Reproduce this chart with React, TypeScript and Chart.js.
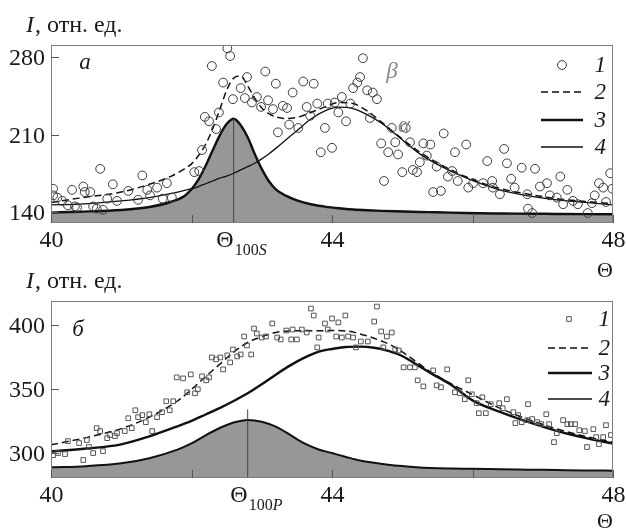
import React, { useEffect, useRef } from 'react';
import { Chart, registerables } from 'chart.js';
Chart.register(...registerables);

// ---------- panel a (top) ----------
const thetaTop = [40, 40.4, 41, 41.4, 41.7, 41.9, 42, 42.1, 42.2, 42.3, 42.4, 42.5, 42.6, 42.7, 42.8, 42.9, 43, 43.1, 43.2, 43.35, 43.5, 43.7, 43.9, 44.1, 44.3, 44.5, 44.7, 44.9, 45.25, 45.5, 45.9, 46.4, 46.8, 47.2, 47.6, 48];
const peakS = [139.4, 140.2, 141.8, 144.5, 149, 154.5, 160.5, 169.5, 181.5, 195.5, 209, 219.5, 224.3, 218.5, 207.5, 192.5, 179, 168, 160.5, 154.5, 150.5, 147, 144.8, 143.3, 142.2, 141.5, 141, 140.6, 140, 139.7, 139, 138.6, 138.4, 138.2, 138, 137.9];
const broadS = [146.4, 147, 150, 153, 156.5, 159.5, 161, 163, 165.5, 168, 170.5, 172.5, 175, 178, 181, 184, 188, 192.5, 197.5, 205.5, 213.5, 224, 231.5, 234.8, 233.5, 228, 220.5, 210.5, 192.5, 183, 171, 159.7, 154.5, 151, 148.7, 146.4];
const sumS = [148.5, 152.5, 158, 165, 172, 179, 183.5, 191, 201, 215, 232, 250, 261, 263, 254, 243, 234, 229, 226, 224.5, 225.5, 230, 235, 239, 238, 231.5, 221.5, 211, 194, 184.5, 172, 161, 156, 152, 149.5, 147.5];
const obsTopTheta = [40.03, 40.03, 40.09, 40.16, 40.24, 40.30, 40.34, 40.37, 40.46, 40.48, 40.56, 40.60, 40.65, 40.70, 40.74, 40.80, 40.88, 40.94, 41.10, 41.24, 41.30, 41.37, 41.41, 41.51, 41.59, 41.65, 41.72, 42.04, 42.11,
  42.15, 42.19, 42.25, 42.35, 42.39, 42.29, 42.51, 42.55, 42.45, 42.59, 42.70, 42.79, 42.76, 42.86, 42.93, 42.99, 43.05, 43.09, 43.16, 43.20, 43.30, 43.36, 43.39, 43.23, 43.44, 43.52, 43.59, 43.64, 43.69, 43.74, 43.79, 43.84, 43.90, 43.94,
  44.00, 44.04, 44.09, 44.14, 44.20, 44.26, 44.30, 44.36, 44.40, 44.44, 44.50, 44.58, 44.64, 44.54, 44.70, 44.74, 44.80, 44.85, 44.90, 44.94, 45.00, 45.05, 45.11, 45.15, 45.21, 45.25, 45.30, 45.35, 45.40, 45.44, 45.49, 45.55, 45.59, 45.65, 45.71, 45.75, 45.79, 45.91, 45.94,
  46.01, 46.15, 46.21, 46.28, 46.29, 46.39, 46.45, 46.49, 46.55, 46.60, 46.70, 46.78, 46.79, 46.85, 46.89, 46.96, 47.06, 47.10, 47.20, 47.25, 47.29, 47.35, 47.43, 47.50, 47.64, 47.70, 47.74, 47.80, 47.86, 47.90, 47.96, 47.99];
const obsTopI = [161, 155, 153, 150, 146, 160, 145, 144, 163, 158, 158, 145, 143, 179, 142, 152, 165, 150, 159, 151, 173, 160, 155, 162, 152, 166, 153, 176, 177,
  196, 226, 222, 215, 230, 272, 288, 281, 257, 242, 252, 262, 243, 239, 244, 235, 267, 241, 233, 256, 236, 234, 219, 212, 248, 216, 258, 235, 227, 256, 238, 194, 216, 238,
  198, 239, 230, 244, 222, 238, 252, 257, 262, 279, 250, 248, 242, 225, 202, 168, 194, 216, 203, 192, 176, 216, 203, 178, 176, 185, 202, 191, 201, 158, 181, 159, 211, 172, 177, 194, 168, 201, 162,
  166, 166, 186, 168, 162, 156, 197, 184, 170, 162, 180, 156, 143, 139, 179, 163, 166, 155, 153, 172, 147, 160, 150, 147, 139, 148, 155, 166, 162, 149, 175, 161];
const yTicksTop = [140, 210, 280];

// ---------- panel б (bottom) ----------
const thetaBottom = [40, 40.5, 41, 41.4, 41.8, 42, 42.2, 42.4, 42.6, 42.8, 43, 43.2, 43.4, 43.6, 43.8, 44, 44.2, 44.4, 44.6, 44.8, 45, 45.2, 45.4, 45.7, 46, 46.4, 46.8, 47.2, 47.6, 48];
const peakP = [288.9, 289.8, 292, 296, 302.7, 307.5, 313.8, 319.5, 323.8, 325.8, 324.4, 320.5, 314.3, 307.7, 303, 300, 297, 294.2, 292.4, 291, 289.9, 289, 288.4, 288, 287.8, 287.4, 287.1, 286.8, 286.5, 286.3];
const broadP = [301.3, 303.5, 306.8, 313, 320.8, 325, 330, 335, 340.5, 346.5, 353.5, 361, 368, 374, 378.8, 381, 382.5, 382.8, 381.9, 379.5, 375.5, 369, 362.4, 352.9, 341, 331.8, 324, 317.2, 311.8, 307.4];
const sumP = [306.4, 312, 319, 328, 340.5, 349.5, 359.5, 369, 378.5, 386, 390.5, 393.8, 395, 395.2, 395.2, 395.3, 395, 392.7, 389.3, 385, 378.8, 371, 363.3, 353.8, 345.5, 334.6, 326, 318.8, 313, 308.5];
const obsBotTheta = [40.03, 40.10, 40.20, 40.24, 40.40, 40.46, 40.51, 40.54, 40.60, 40.65, 40.70, 40.74, 40.80, 40.84, 40.91, 40.94, 41.05, 41.10, 41.15, 41.20, 41.24, 41.30, 41.35, 41.40, 41.44, 41.51, 41.58, 41.64, 41.69, 41.74, 41.79, 41.88, 41.99, 41.94,
  42.05, 42.09, 42.15, 42.21, 42.25, 42.29, 42.35, 42.41, 42.45, 42.51, 42.55, 42.59, 42.65, 42.70, 42.75, 42.79, 42.85, 42.89, 42.93, 43.00, 43.06, 43.15, 43.22, 43.27, 43.35, 43.42, 43.44, 43.50, 43.57, 43.64, 43.70, 43.74, 43.79, 43.81,
  43.90, 43.94, 44.00, 44.09, 44.19, 44.06, 44.14, 44.23, 44.30, 44.34, 44.41, 44.51, 44.64, 44.60, 44.70, 44.78, 44.85, 44.73, 44.90, 44.95, 45.02, 45.11, 45.18, 45.22, 45.30, 45.44, 45.49, 45.55, 45.64, 45.94, 45.75, 45.82, 45.89, 45.99,
  46.06, 46.14, 46.09, 46.19, 46.26, 46.38, 46.49, 46.43, 46.58, 46.65, 46.61, 46.70, 46.79, 46.78, 46.85, 46.92, 46.98, 47.05, 47.09, 47.16, 47.20, 47.29, 47.35, 47.40, 47.46, 47.52, 47.60, 47.63, 47.72, 47.76, 47.80, 47.86, 47.90, 47.97];
const obsBotI = [298.4, 300, 299.2, 309.3, 307.8, 294.6, 310.1, 304.7, 300, 319.4, 317.1, 301.5, 311.6, 314, 313.2, 315.5, 317.1, 327.1, 319.4, 333.3, 327.9, 329.5, 324, 330.2, 317.1, 327.9, 331.8, 340.3, 333.3, 340.3, 358.9, 358.1, 361.2, 347.3,
  346.5, 349.6, 359.7, 356.6, 358.9, 374.4, 372.9, 374.4, 365.1, 376, 370.5, 380.6, 375.2, 376.7, 390.7, 383.7, 376.7, 396.9, 393, 389.9, 390.7, 400.8, 389.9, 388.4, 395.3, 388.4, 396.1, 388.4, 396.1, 393.8, 412.4, 407, 382.2, 389.9,
  400.8, 396.1, 404.7, 401.6, 407, 390.7, 389.9, 390.7, 389.9, 382.2, 386.8, 386.8, 414, 402.3, 394.6, 390.7, 393.8, 382.2, 380.6, 379.8, 366.7, 366.7, 366.7, 356.6, 351.9, 364.3, 352.7, 351.2, 365.1, 356.6, 347.3, 346.5, 341.9, 345.7,
  338.8, 343.4, 331, 331, 338, 338.8, 341.9, 334.9, 331.8, 329.5, 323.3, 324, 338, 325.6, 326.4, 324, 322.5, 330.2, 322.5, 308.5, 315.5, 325.6, 322.5, 322.5, 322.5, 317.8, 317.1, 304.7, 318.6, 312.4, 307, 312.4, 321.7, 314];
const yTicksBottom = [300, 350, 400];

// ---------- shared ----------
const xTicks = [40, 42, 44, 46, 48];
const xTickLabels = ['40', '', '44', '', '48'];
const legendLabels = ['1', '2', '3', '4'];
const axisLabelItalic = 'I';
const axisLabelRest = ', отн. ед.';
const thetaLabel = 'Θ';

const SERIF = '"Liberation Serif", "DejaVu Serif", serif';

type Panel = {
  theta: number[]; peak: number[]; broad: number[]; sum: number[];
  obsX: number[]; obsY: number[];
  yMin: number; yMax: number; yTicks: number[];
  markerTheta: number; markerTop: number; subLetter: string;
  padding: { left: number; right: number; top: number; bottom: number };
  markerStyle: 'circle' | 'rect'; markerR: number; markerColor: string;
  peakW: number; broadW: number;
  axisLabelY: number; thetaLabelY: number;
  letter: string; letterX: number; letterY: number;
  legendY: number[]; legendMarkerX: number; legendX0: number; legendX1: number; legendTextX: number;
  greek: { t: string; x: number; y: number }[];
};

const TOP: Panel = {
  theta: thetaTop, peak: peakS, broad: broadS, sum: sumS, obsX: obsTopTheta, obsY: obsTopI,
  yMin: 130, yMax: 291, yTicks: yTicksTop,
  markerTheta: 42.6, markerTop: 224.3, subLetter: 'S',
  padding: { left: 51, right: 13, top: 45, bottom: 67 },
  markerStyle: 'circle', markerR: 4.4, markerColor: '#3a3a3a',
  peakW: 2.4, broadW: 1.3,
  axisLabelY: 32, thetaLabelY: 277,
  letter: 'a', letterX: 85, letterY: 63,
  legendY: [65, 92, 120, 147], legendMarkerX: 562, legendX0: 541, legendX1: 583, legendTextX: 606,
  greek: [{ t: 'β', x: 392, y: 72 }, { t: 'α', x: 404, y: 126 }],
};

const BOTTOM: Panel = {
  theta: thetaBottom, peak: peakP, broad: broadP, sum: sumP, obsX: obsBotTheta, obsY: obsBotI,
  yMin: 280.6, yMax: 418.3, yTicks: yTicksBottom,
  markerTheta: 42.8, markerTop: 334, subLetter: 'P',
  padding: { left: 51, right: 13, top: 41, bottom: 52 },
  markerStyle: 'rect', markerR: 3.3, markerColor: '#555',
  peakW: 2, broadW: 2.4,
  axisLabelY: 28, thetaLabelY: 268,
  letter: 'б', letterX: 78, letterY: 70,
  legendY: [59, 88, 113, 139], legendMarkerX: 569, legendX0: 548, legendX1: 592, legendTextX: 610,
  greek: [],
};

function decor(p: Panel) {
  return {
    id: 'decor',
    afterDatasetsDraw(chart: any) {
      const { ctx, chartArea: a, scales } = chart;
      const xs = scales.x, ys = scales.y;
      ctx.save();
      // frame
      ctx.strokeStyle = '#7d7d7d';
      ctx.lineWidth = 1;
      ctx.setLineDash([]);
      ctx.strokeRect(a.left + 0.5, a.top + 0.5, a.right - a.left - 1, a.bottom - a.top - 1);
      ctx.fillStyle = '#1a1a1a';
      ctx.strokeStyle = '#555';
      // y ticks
      ctx.font = `24px ${SERIF}`;
      ctx.textAlign = 'right';
      ctx.textBaseline = 'middle';
      p.yTicks.forEach((v) => {
        const py = Math.round(ys.getPixelForValue(v)) + 0.5;
        ctx.beginPath(); ctx.moveTo(a.left, py); ctx.lineTo(a.left + 8, py); ctx.stroke();
        ctx.fillText(String(v), a.left - 6, py + 1);
      });
      // x ticks
      ctx.textAlign = 'center';
      ctx.textBaseline = 'alphabetic';
      xTicks.forEach((v, i) => {
        const px = Math.round(xs.getPixelForValue(v)) + 0.5;
        ctx.beginPath(); ctx.moveTo(px, a.bottom); ctx.lineTo(px, a.bottom - 8); ctx.stroke();
        if (xTickLabels[i]) ctx.fillText(xTickLabels[i], px, a.bottom + 24);
      });
      // Θ_100S marker label
      const mx = xs.getPixelForValue(p.markerTheta);
      ctx.textAlign = 'right';
      ctx.font = `24px ${SERIF}`;
      ctx.fillText(thetaLabel, mx, a.bottom + 24);
      ctx.textAlign = 'left';
      ctx.font = `16px ${SERIF}`;
      ctx.fillText('100', mx + 1, a.bottom + 32);
      const w100 = ctx.measureText('100').width;
      ctx.font = `italic 16px ${SERIF}`;
      ctx.fillText(p.subLetter, mx + 1 + w100, a.bottom + 32);
      // axis labels
      ctx.font = `italic 24px ${SERIF}`;
      ctx.fillText(axisLabelItalic, 26, p.axisLabelY);
      const wi = ctx.measureText(axisLabelItalic).width;
      ctx.font = `24px ${SERIF}`;
      ctx.fillText(axisLabelRest, 26 + wi + 1, p.axisLabelY);
      ctx.textAlign = 'center';
      ctx.font = `22px ${SERIF}`;
      ctx.fillText(thetaLabel, 605, p.thetaLabelY);
      // panel letter
      ctx.font = `italic 23px ${SERIF}`;
      ctx.textBaseline = 'middle';
      ctx.fillText(p.letter, p.letterX, p.letterY);
      // greek labels
      ctx.fillStyle = '#8a8a8a';
      p.greek.forEach((g) => ctx.fillText(g.t, g.x, g.y));
      // legend
      ctx.fillStyle = '#1a1a1a';
      ctx.font = `italic 23px ${SERIF}`;
      ctx.textAlign = 'right';
      p.legendY.forEach((ly, i) => {
        ctx.fillText(legendLabels[i], p.legendTextX, ly + 1);
        ctx.strokeStyle = '#111';
        if (i === 0) {
          ctx.lineWidth = 1;
          ctx.strokeStyle = p.markerColor;
          ctx.beginPath();
          if (p.markerStyle === 'circle') ctx.arc(p.legendMarkerX, ly, p.markerR, 0, Math.PI * 2);
          else { const s = p.markerR * Math.SQRT1_2; ctx.rect(p.legendMarkerX - s, ly - s, 2 * s, 2 * s); }
          ctx.stroke();
          return;
        }
        ctx.lineWidth = i === 1 ? 1.5 : i === 2 ? 2.4 : 1.3;
        ctx.setLineDash(i === 1 ? [7, 4] : []);
        ctx.beginPath(); ctx.moveTo(p.legendX0, ly); ctx.lineTo(p.legendX1, ly); ctx.stroke();
        ctx.setLineDash([]);
      });
      ctx.restore();
    },
  };
}

function makeChart(canvas: HTMLCanvasElement, p: Panel) {
  const pts = (xs: number[], ys: number[]) => xs.map((x, i) => ({ x, y: ys[i] }));
  return new Chart(canvas, {
    type: 'line',
    data: {
      datasets: [
        {
          label: '1', data: pts(p.obsX, p.obsY), showLine: false, pointStyle: p.markerStyle,
          pointRadius: p.markerR, pointBorderWidth: 1, pointBorderColor: p.markerColor,
          pointBackgroundColor: 'rgba(0,0,0,0)', borderColor: p.markerColor, order: 0,
        },
        {
          label: '2', data: pts(p.theta, p.sum), borderColor: '#111', borderWidth: 1.5, borderDash: [7, 4],
          pointRadius: 0, cubicInterpolationMode: 'monotone', fill: false, order: 1,
        },
        {
          label: 'broad', data: pts(p.theta, p.broad), borderColor: '#111', borderWidth: p.broadW,
          pointRadius: 0, cubicInterpolationMode: 'monotone', fill: false, order: 2,
        },
        {
          label: 'center', data: [{ x: p.markerTheta, y: p.yMin }, { x: p.markerTheta, y: p.markerTop }],
          borderColor: '#444', borderWidth: 1, pointRadius: 0, fill: false, order: 3,
        },
        {
          label: 'peak', data: pts(p.theta, p.peak), borderColor: '#111', borderWidth: p.peakW,
          backgroundColor: '#979797', fill: 'start', pointRadius: 0, cubicInterpolationMode: 'monotone', order: 4,
        },
      ] as any,
    },
    options: {
      responsive: false, animation: false, devicePixelRatio: 1, events: [],
      layout: { padding: p.padding },
      scales: {
        x: { type: 'linear', min: 40, max: 48, display: false },
        y: { type: 'linear', min: p.yMin, max: p.yMax, display: false },
      },
      plugins: { legend: { display: false }, tooltip: { enabled: false } },
    },
    plugins: [decor(p)],
  } as any);
}

export default function App() {
  const topRef = useRef<HTMLCanvasElement>(null);
  const botRef = useRef<HTMLCanvasElement>(null);
  useEffect(() => {
    const c1 = makeChart(topRef.current!, TOP);
    const c2 = makeChart(botRef.current!, BOTTOM);
    return () => { c1.destroy(); c2.destroy(); };
  }, []);
  return (
    <div style={{ position: 'absolute', left: 0, top: 0, width: 626, height: 530, background: '#fff', overflow: 'hidden' }}>
      <canvas ref={topRef} width={626} height={290} style={{ position: 'absolute', left: 0, top: 0 }} />
      <canvas ref={botRef} width={626} height={270} style={{ position: 'absolute', left: 0, top: 260 }} />
    </div>
  );
}
